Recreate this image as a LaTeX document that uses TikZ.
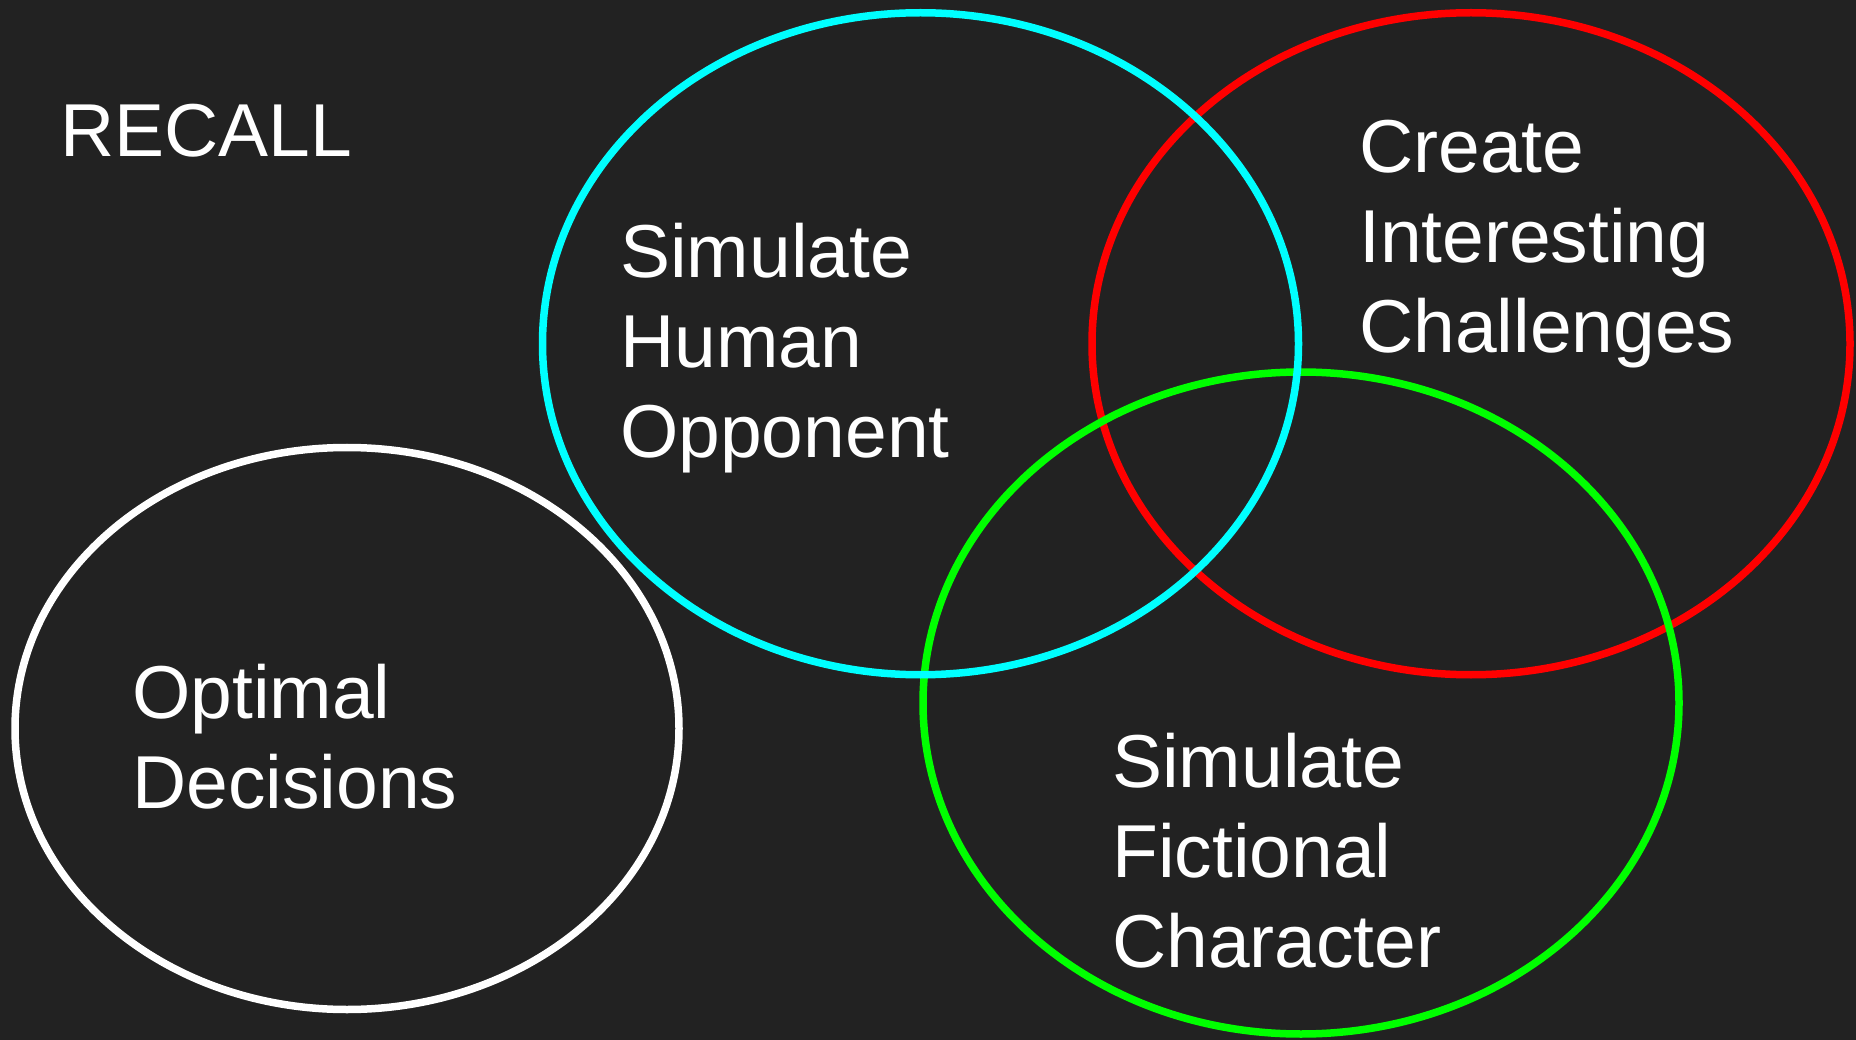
\documentclass[tikz,border=0pt]{standalone}
\usepackage{fontspec}
\setmainfont{Liberation Sans}
\definecolor{bgdark}{RGB}{34,34,34}
\definecolor{ringcyan}{RGB}{0,255,255}
\definecolor{ringred}{RGB}{255,0,0}
\definecolor{ringgreen}{RGB}{0,255,0}
\tikzset{
  ring/.style={line width=7.5pt},
  label/.style={text=white, inner sep=0pt, anchor=base west, align=left,
                font=\fontsize{75}{90}\selectfont},
}
\begin{document}
\begin{tikzpicture}[x=1pt,y=-1pt]
  % canvas
  \fill[bgdark] (0,0) rectangle (1856,1040);
  \useasboundingbox (0,0) rectangle (1856,1040);

  % the four sets
  \draw[ring, white]     (347,728.5)   ellipse [x radius=332, y radius=281];
  \draw[ring, ringred]   (1471,343.75) ellipse [x radius=379, y radius=331];
  \draw[ring, ringgreen] (1301,703)    ellipse [x radius=378, y radius=331];
  \draw[ring, ringcyan]  (920.5,343.75) ellipse [x radius=378, y radius=331];

  % labels (anchored on the baseline of their last line)
  \node[label] (recall)     at (60,157)   {RECALL};
  \node[label] (human)      at (620,457)  {Simulate\\Human\\Opponent};
  \node[label] (challenges) at (1359,353) {Create\\Interesting\\Challenges};
  \node[label] (optimal)    at (132,808)  {Optimal\\Decisions};
  \node[label] (fictional)  at (1112,967) {Simulate\\Fictional\\Character};
\end{tikzpicture}
\end{document}
